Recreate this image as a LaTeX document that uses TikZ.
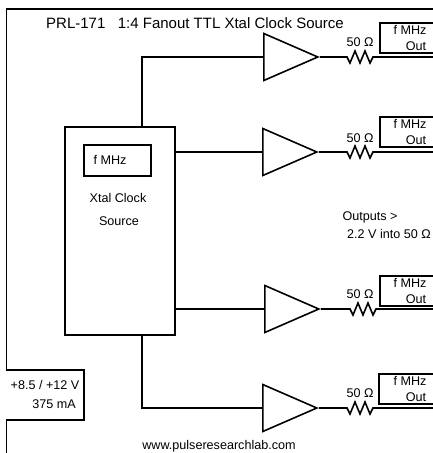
\documentclass[tikz,border=0pt]{standalone}
\usepackage{fontspec}
\setmainfont{Liberation Sans}
\usetikzlibrary{positioning,shapes.geometric}

\tikzset{
	wire/.style={line width=1.6pt},
	lbl/.style={inner sep=0pt, font=\fontsize{12.6}{14}\selectfont},
	buffer/.style={draw, line width=1.6pt, anchor=lower side, isosceles triangle, isosceles triangle stretches, inner sep=0pt, minimum width=47pt, minimum height=54pt, shape border rotate=0},
	outbox/.style={draw, line width=1.6pt, anchor=north west, minimum width=70pt, minimum height=30pt, inner sep=0pt},
}

\begin{document}
\begin{tikzpicture}[x=1pt, y=-1pt, line cap=butt, line join=miter]
	
	\useasboundingbox (0,0) rectangle (433,453);
	
	% frame of the module
	\draw[line width=2.6pt] (6,9) -- (433,9);
	\draw[wire] (6.5,9) -- (6.5,370);
	\draw[wire] (6.5,420) -- (6.5,453);
	\node[lbl, font=\fontsize{15}{17}\selectfont] (title) at (195,23) {PRL-171\ \ \ 1:4 Fanout TTL Xtal Clock Source};
	
	% clock source
	\node[draw, wire, anchor=north west, minimum width=110pt, minimum height=208pt, inner sep=0pt] (clock) at (64,126) {};
	\node[draw, wire, anchor=north west, minimum width=67pt, minimum height=31pt, inner sep=0pt] (osc) at (83,144) {};
	\node[lbl] (osctext) at (110,160) {f MHz};
	\node[lbl] (xtal) at (118,198) {Xtal Clock};
	\node[lbl] (src) at (119,221) {Source};
	
	% buffers
	\node[buffer] (b1) at (263,57) {};
	\node[buffer] (b2) at (262,152) {};
	\node[buffer] (b3) at (264,309) {};
	\node[buffer] (b4) at (262,408) {};
	
	\draw[wire] ([xshift=22pt]clock.north) |- (b1.lower side);
	\draw[wire] (clock.east |- b2.lower side) -- (b2.lower side);
	\draw[wire] (clock.east |- b3.lower side) -- (b3.lower side);
	\draw[wire] ([xshift=22pt]clock.south) |- (b4.lower side);
	
	% output 1
	\node[outbox] (o1) at (379,22) {};
	\node[lbl] (f1) at (410,30) {f MHz};
	\node[lbl] (t1) at (416,46) {Out};
	\node[lbl] (r1) at (360,42) {50 Ω};
	\coordinate (e1) at (433,57);
	\draw[wire] (b1.apex) -- (347,57) -- ++(3,6) -- ++(5,-12) -- ++(5,12) -- ++(5,-12) -- ++(5,12) -- ++(3,-6) -- (e1);
	
	% output 2
	\node[outbox] (o2) at (379,116) {};
	\node[lbl] (f2) at (410,124) {f MHz};
	\node[lbl] (t2) at (416,140) {Out};
	\node[lbl] (r2) at (360,138) {50 Ω};
	\coordinate (e2) at (433,152);
	\draw[wire] (b2.apex) -- (347,152) -- ++(3,6) -- ++(5,-12) -- ++(5,12) -- ++(5,-12) -- ++(5,12) -- ++(3,-6) -- (e2);
	
	% output 3
	\node[outbox] (o3) at (379,275) {};
	\node[lbl] (f3) at (410,283) {f MHz};
	\node[lbl] (t3) at (416,299) {Out};
	\node[lbl] (r3) at (360,294) {50 Ω};
	\coordinate (e3) at (433,309);
	\draw[wire] (b3.apex) -- (350,309) -- ++(3,6) -- ++(5,-12) -- ++(5,12) -- ++(5,-12) -- ++(5,12) -- ++(3,-6) -- (e3);
	
	% output 4
	\node[outbox] (o4) at (378,373) {};
	\node[lbl] (f4) at (410,381) {f MHz};
	\node[lbl] (t4) at (416,397) {Out};
	\node[lbl] (r4) at (360,393) {50 Ω};
	\coordinate (e4) at (433,408);
	\draw[wire] (b4.apex) -- (347,408) -- ++(3,6) -- ++(5,-12) -- ++(5,12) -- ++(5,-12) -- ++(5,12) -- ++(3,-6) -- (e4);
	
	\node[lbl] (note1) at (370,217) {Outputs >};
	\node[lbl] (note2) at (389,234) {2.2 V into 50 Ω};
	
	% supply
	\coordinate (pa) at (6,370);
	\coordinate (pb) at (84,370);
	\coordinate (pc) at (84,420);
	\coordinate (pd) at (6,420);
	\draw[wire] (pa) -- (pb) -- (pc) -- (pd);
	\node[lbl] (volt) at (45,385) {+8.5 / +12 V};
	\node[lbl] (amp) at (54,404) {375 mA};
	
	\node[lbl] (web) at (219,446) {www.pulseresearchlab.com};
	
\end{tikzpicture}
\end{document}
